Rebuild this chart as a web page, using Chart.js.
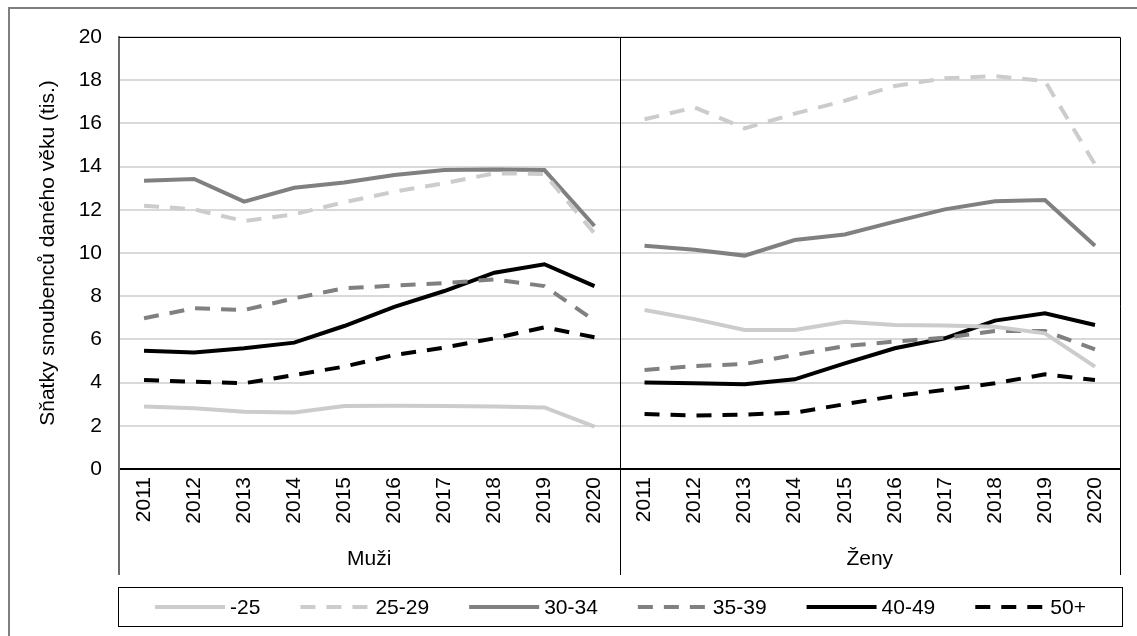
<!DOCTYPE html>
<html><head><meta charset="utf-8">
<script src="https://cdn.jsdelivr.net/npm/chart.js@4/dist/chart.umd.min.js"></script>
<style>html,body{margin:0;padding:0;background:#fff;}#wrap{width:1137px;height:636px;position:relative;}</style>
</head><body><div id="wrap"><canvas id="c"></canvas></div>
<script>
const years = ['2011','2012','2013','2014','2015','2016','2017','2018','2019','2020'];
const groups = ['Muži','Ženy'];
const seriesNames = ['-25','25-29','30-34','35-39','40-49','50+'];
const yTitle = 'Sňatky snoubenců daného věku (tis.)';

const muzi_25   = [2.89,2.81,2.65,2.62,2.92,2.93,2.92,2.89,2.85,1.96];
const zeny_25   = [7.36,6.94,6.44,6.44,6.82,6.67,6.64,6.59,6.28,4.74];
const muzi_2529 = [12.19,12.02,11.48,11.79,12.35,12.84,13.23,13.69,13.66,10.91];
const zeny_2529 = [16.19,16.74,15.77,16.45,17.05,17.73,18.09,18.19,17.96,14.1];
const muzi_3034 = [13.35,13.43,12.38,13.02,13.26,13.61,13.84,13.87,13.84,11.25];
const zeny_3034 = [10.34,10.15,9.88,10.6,10.86,11.45,12.02,12.4,12.45,10.34];
const muzi_3539 = [6.98,7.44,7.36,7.9,8.37,8.49,8.6,8.78,8.47,6.87];
const zeny_3539 = [4.58,4.77,4.86,5.28,5.69,5.9,6.08,6.39,6.39,5.54];
const muzi_4049 = [5.48,5.39,5.59,5.85,6.62,7.51,8.24,9.09,9.48,8.47];
const zeny_4049 = [4.01,3.97,3.92,4.15,4.89,5.59,6.05,6.87,7.21,6.67];
const muzi_50   = [4.12,4.04,3.97,4.35,4.74,5.28,5.62,6.05,6.56,6.1];
const zeny_50   = [2.55,2.47,2.52,2.61,3.0,3.38,3.66,3.97,4.38,4.12];

const FONT = '"Liberation Sans", Arial, sans-serif';
const FSIZE = 21;
const labels = years.concat(years);
const lightGray = '#cccccc', midGray = '#808080', black = '#000000';
const DASH = [15, 11];
const styles = [
  {c: lightGray, d: []}, {c: lightGray, d: DASH},
  {c: midGray, d: []}, {c: midGray, d: DASH},
  {c: black, d: []}, {c: black, d: DASH}
];
const seriesData = [
  muzi_25.concat(zeny_25), muzi_2529.concat(zeny_2529), muzi_3034.concat(zeny_3034),
  muzi_3539.concat(zeny_3539), muzi_4049.concat(zeny_4049), muzi_50.concat(zeny_50)
];
const datasets = seriesNames.map((n, i) => ({
  label: n, data: seriesData[i], borderColor: styles[i].c, borderDash: styles[i].d,
  borderWidth: 4, pointRadius: 0, tension: 0, fill: false,
  segment: { borderColor: ctx => ctx.p1DataIndex === years.length ? 'rgba(0,0,0,0)' : undefined }
}));

const decor = {
  id: 'decor',
  afterDraw(chart) {
    const {ctx, chartArea: a, scales: {x}} = chart;
    ctx.save();
    ctx.strokeStyle = '#7f7f7f'; ctx.lineWidth = 2;
    ctx.beginPath(); ctx.moveTo(9, 700); ctx.lineTo(9, 8); ctx.lineTo(1200, 8); ctx.stroke();
    ctx.strokeStyle = '#000'; ctx.lineWidth = 1;
    ctx.beginPath(); ctx.moveTo(a.left, a.top + 0.5); ctx.lineTo(a.right + 0.5, a.top + 0.5);
    ctx.lineTo(a.right + 0.5, x.bottom); ctx.stroke();
    const n = years.length;
    const divX = Math.round((x.getPixelForValue(n - 1) + x.getPixelForValue(n)) / 2) + 0.5;
    ctx.beginPath(); ctx.moveTo(divX, a.top); ctx.lineTo(divX, x.bottom); ctx.stroke();
    ctx.strokeStyle = '#6b6b6b'; ctx.lineWidth = 2;
    ctx.beginPath(); ctx.moveTo(a.left, a.bottom); ctx.lineTo(a.left, x.bottom); ctx.stroke();
    ctx.fillStyle = '#000'; ctx.font = FSIZE + 'px ' + FONT; ctx.textAlign = 'center'; ctx.textBaseline = 'middle';
    groups.forEach((g, gi) => {
      const cx = (x.getPixelForValue(gi * n) + x.getPixelForValue(gi * n + n - 1)) / 2;
      ctx.fillText(g, cx, x.bottom - 16);
    });
    const boxTop = x.bottom + 12.5, boxH = 39;
    ctx.strokeStyle = '#000'; ctx.lineWidth = 1;
    ctx.strokeRect(a.left - 0.5, boxTop, a.right - a.left + 3, boxH);
    const lineLen = 70, tgap = 5, igap = 40;
    const ds = chart.data.datasets;
    const widths = ds.map(d => lineLen + tgap + ctx.measureText(d.label).width);
    const total = widths.reduce((s, w) => s + w, 0) + igap * (ds.length - 1);
    let px = (a.left + a.right + 2) / 2 - total / 2;
    const cy = boxTop + boxH / 2;
    ctx.textAlign = 'left';
    ds.forEach((d, i) => {
      ctx.save();
      ctx.strokeStyle = d.borderColor; ctx.lineWidth = d.borderWidth; ctx.setLineDash(d.borderDash);
      ctx.beginPath(); ctx.moveTo(px, cy); ctx.lineTo(px + lineLen, cy); ctx.stroke();
      ctx.restore();
      ctx.fillStyle = '#000';
      ctx.fillText(d.label, px + lineLen + tgap, cy + 1);
      px += widths[i] + igap;
    });
    ctx.restore();
  }
};

Chart.defaults.font.family = FONT;
Chart.defaults.font.size = FSIZE;
Chart.defaults.color = '#000';

new Chart(document.getElementById('c'), {
  type: 'line',
  data: { labels, datasets },
  options: {
    responsive: true, maintainAspectRatio: false, animation: false,
    layout: { padding: { top: 37, right: 17, left: 0, bottom: 61 } },
    plugins: { legend: { display: false }, tooltip: { enabled: false } },
    scales: {
      x: {
        type: 'category', offset: true,
        grid: { display: false, drawTicks: false },
        border: { display: true, color: '#000', width: 2 },
        ticks: { autoSkip: false, minRotation: 90, maxRotation: 90, padding: 8 },
        afterFit: s => { s.height = 106; }
      },
      y: {
        min: 0, max: 20,
        grid: { color: '#d9d9d9', lineWidth: 2, drawTicks: false },
        border: { display: true, color: '#6b6b6b', width: 2 },
        ticks: { stepSize: 2, padding: 17 },
        title: { display: true, text: yTitle, padding: { top: 36, bottom: 0 } },
        afterFit: s => { s.width = 119; }
      }
    }
  },
  plugins: [decor]
});
</script></body></html>
